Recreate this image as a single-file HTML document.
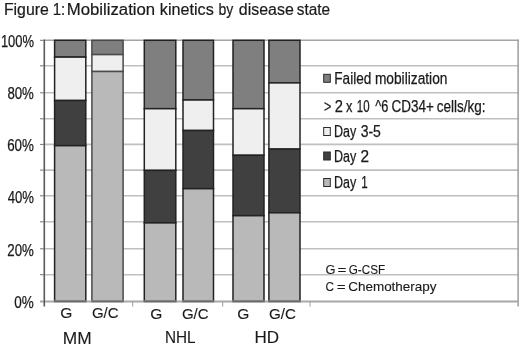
<!DOCTYPE html>
<html><head><meta charset="utf-8"><style>
html,body{margin:0;padding:0;background:#fff;}
body{width:520px;height:348px;overflow:hidden;}
svg{display:block;font-family:"Liberation Sans",sans-serif;filter:grayscale(1) blur(0.3px);}
</style></head><body>
<svg width="520" height="348" viewBox="0 0 520 348">
<rect width="520" height="348" fill="#fff"/>
<line x1="44.3" y1="65.80" x2="518.1" y2="65.80" stroke="#bfbfbf" stroke-width="1.6"/>
<line x1="44.3" y1="92.80" x2="518.1" y2="92.80" stroke="#bfbfbf" stroke-width="1.6"/>
<line x1="44.3" y1="118.80" x2="518.1" y2="118.80" stroke="#bfbfbf" stroke-width="1.6"/>
<line x1="44.3" y1="144.40" x2="518.1" y2="144.40" stroke="#bfbfbf" stroke-width="1.6"/>
<line x1="44.3" y1="170.10" x2="518.1" y2="170.10" stroke="#bfbfbf" stroke-width="1.6"/>
<line x1="44.3" y1="195.80" x2="518.1" y2="195.80" stroke="#bfbfbf" stroke-width="1.6"/>
<line x1="44.3" y1="221.80" x2="518.1" y2="221.80" stroke="#bfbfbf" stroke-width="1.6"/>
<line x1="44.3" y1="248.80" x2="518.1" y2="248.80" stroke="#bfbfbf" stroke-width="1.6"/>
<line x1="44.3" y1="274.70" x2="518.1" y2="274.70" stroke="#bfbfbf" stroke-width="1.6"/>
<line x1="40" y1="40.30" x2="44.3" y2="40.30" stroke="#777" stroke-width="1"/>
<line x1="40" y1="65.80" x2="44.3" y2="65.80" stroke="#777" stroke-width="1"/>
<line x1="40" y1="92.80" x2="44.3" y2="92.80" stroke="#777" stroke-width="1"/>
<line x1="40" y1="118.80" x2="44.3" y2="118.80" stroke="#777" stroke-width="1"/>
<line x1="40" y1="144.40" x2="44.3" y2="144.40" stroke="#777" stroke-width="1"/>
<line x1="40" y1="170.10" x2="44.3" y2="170.10" stroke="#777" stroke-width="1"/>
<line x1="40" y1="195.80" x2="44.3" y2="195.80" stroke="#777" stroke-width="1"/>
<line x1="40" y1="221.80" x2="44.3" y2="221.80" stroke="#777" stroke-width="1"/>
<line x1="40" y1="248.80" x2="44.3" y2="248.80" stroke="#777" stroke-width="1"/>
<line x1="40" y1="274.70" x2="44.3" y2="274.70" stroke="#777" stroke-width="1"/>
<line x1="40" y1="301.50" x2="44.3" y2="301.50" stroke="#777" stroke-width="1"/>
<line x1="44.3" y1="40.2" x2="518.1" y2="40.2" stroke="#a4a4a4" stroke-width="1.4"/>
<line x1="518.1" y1="39.6" x2="518.1" y2="306.5" stroke="#8e8e8e" stroke-width="1.3"/>
<rect x="54.60" y="40.30" width="31.20" height="16.80" fill="#7f7f7f" stroke="#222" stroke-width="1.5"/>
<rect x="54.60" y="57.10" width="31.20" height="43.40" fill="#efefef" stroke="#222" stroke-width="1.5"/>
<rect x="54.60" y="100.50" width="31.20" height="45.20" fill="#404040" stroke="#222" stroke-width="1.5"/>
<rect x="54.60" y="145.70" width="31.20" height="155.70" fill="#b9b9b9" stroke="#222" stroke-width="1.5"/>
<rect x="91.90" y="40.30" width="31.20" height="14.30" fill="#7f7f7f" stroke="#4a4a4a" stroke-width="1.5"/>
<rect x="91.90" y="54.60" width="31.20" height="16.90" fill="#efefef" stroke="#4a4a4a" stroke-width="1.5"/>
<rect x="91.90" y="71.50" width="31.20" height="229.90" fill="#b9b9b9" stroke="#4a4a4a" stroke-width="1.5"/>
<rect x="144.30" y="40.30" width="31.50" height="68.40" fill="#7f7f7f" stroke="#222" stroke-width="1.5"/>
<rect x="144.30" y="108.70" width="31.50" height="61.70" fill="#efefef" stroke="#222" stroke-width="1.5"/>
<rect x="144.30" y="170.40" width="31.50" height="52.50" fill="#404040" stroke="#222" stroke-width="1.5"/>
<rect x="144.30" y="222.90" width="31.50" height="78.50" fill="#b9b9b9" stroke="#222" stroke-width="1.5"/>
<rect x="183.00" y="40.30" width="30.50" height="59.70" fill="#7f7f7f" stroke="#222" stroke-width="1.5"/>
<rect x="183.00" y="100.00" width="30.50" height="30.50" fill="#efefef" stroke="#222" stroke-width="1.5"/>
<rect x="183.00" y="130.50" width="30.50" height="58.20" fill="#404040" stroke="#222" stroke-width="1.5"/>
<rect x="183.00" y="188.70" width="30.50" height="112.70" fill="#b9b9b9" stroke="#222" stroke-width="1.5"/>
<rect x="233.00" y="40.30" width="31.00" height="68.40" fill="#7f7f7f" stroke="#222" stroke-width="1.5"/>
<rect x="233.00" y="108.70" width="31.00" height="46.60" fill="#efefef" stroke="#222" stroke-width="1.5"/>
<rect x="233.00" y="155.30" width="31.00" height="60.40" fill="#404040" stroke="#222" stroke-width="1.5"/>
<rect x="233.00" y="215.70" width="31.00" height="85.70" fill="#b9b9b9" stroke="#222" stroke-width="1.5"/>
<rect x="268.90" y="40.30" width="31.10" height="42.60" fill="#7f7f7f" stroke="#222" stroke-width="1.5"/>
<rect x="268.90" y="82.90" width="31.10" height="66.20" fill="#efefef" stroke="#222" stroke-width="1.5"/>
<rect x="268.90" y="149.10" width="31.10" height="63.70" fill="#404040" stroke="#222" stroke-width="1.5"/>
<rect x="268.90" y="212.80" width="31.10" height="88.60" fill="#b9b9b9" stroke="#222" stroke-width="1.5"/>
<line x1="40" y1="301.5" x2="518.1" y2="301.5" stroke="#a8a8a8" stroke-width="1.8"/>
<line x1="53.85" y1="301.4" x2="86.55" y2="301.4" stroke="#6c6c6c" stroke-width="1.8"/>
<line x1="91.15" y1="301.4" x2="123.85" y2="301.4" stroke="#6c6c6c" stroke-width="1.8"/>
<line x1="143.55" y1="301.4" x2="176.55" y2="301.4" stroke="#6c6c6c" stroke-width="1.8"/>
<line x1="182.25" y1="301.4" x2="214.25" y2="301.4" stroke="#6c6c6c" stroke-width="1.8"/>
<line x1="232.25" y1="301.4" x2="264.75" y2="301.4" stroke="#6c6c6c" stroke-width="1.8"/>
<line x1="268.15" y1="301.4" x2="300.75" y2="301.4" stroke="#6c6c6c" stroke-width="1.8"/>
<line x1="132.7" y1="301.5" x2="132.7" y2="306.5" stroke="#9a9a9a" stroke-width="1"/>
<line x1="222.7" y1="301.5" x2="222.7" y2="306.5" stroke="#9a9a9a" stroke-width="1"/>
<line x1="310.0" y1="301.5" x2="310.0" y2="306.5" stroke="#9a9a9a" stroke-width="1"/>
<line x1="44.3" y1="39.6" x2="44.3" y2="306.5" stroke="#5a5a5a" stroke-width="1.6"/>
<rect x="323.7" y="74.30" width="6.6" height="8.0" fill="#7f7f7f" stroke="#2a2a2a" stroke-width="1"/>
<rect x="323.7" y="127.50" width="6.6" height="8.0" fill="#efefef" stroke="#2a2a2a" stroke-width="1"/>
<rect x="323.7" y="152.00" width="6.6" height="8.0" fill="#404040" stroke="#2a2a2a" stroke-width="1"/>
<rect x="323.7" y="178.50" width="6.6" height="8.0" fill="#b9b9b9" stroke="#2a2a2a" stroke-width="1"/>
<text x="3.93" y="14.60" font-size="16" textLength="44.87" lengthAdjust="spacingAndGlyphs" fill="#1a1a1a" stroke="#1a1a1a" stroke-width="0.2">Figure</text>
<text x="52.67" y="14.60" font-size="16" textLength="12.54" lengthAdjust="spacingAndGlyphs" fill="#1a1a1a" stroke="#1a1a1a" stroke-width="0.2">1:</text>
<text x="66.76" y="14.60" font-size="16" textLength="88.44" lengthAdjust="spacingAndGlyphs" fill="#1a1a1a" stroke="#1a1a1a" stroke-width="0.2">Mobilization</text>
<text x="159.85" y="14.60" font-size="16" textLength="53.91" lengthAdjust="spacingAndGlyphs" fill="#1a1a1a" stroke="#1a1a1a" stroke-width="0.2">kinetics</text>
<text x="218.59" y="14.60" font-size="16" textLength="14.80" lengthAdjust="spacingAndGlyphs" fill="#1a1a1a" stroke="#1a1a1a" stroke-width="0.2">by</text>
<text x="238.86" y="14.60" font-size="16" textLength="54.88" lengthAdjust="spacingAndGlyphs" fill="#1a1a1a" stroke="#1a1a1a" stroke-width="0.2">disease</text>
<text x="296.84" y="14.60" font-size="16" textLength="33.30" lengthAdjust="spacingAndGlyphs" fill="#1a1a1a" stroke="#1a1a1a" stroke-width="0.2">state</text>
<text x="0.93" y="46.80" font-size="16" textLength="33.09" lengthAdjust="spacingAndGlyphs" fill="#1a1a1a" stroke="#1a1a1a" stroke-width="0.25">100%</text>
<text x="7.40" y="98.80" font-size="16" textLength="26.48" lengthAdjust="spacingAndGlyphs" fill="#1a1a1a" stroke="#1a1a1a" stroke-width="0.25">80%</text>
<text x="7.13" y="151.00" font-size="16" textLength="26.76" lengthAdjust="spacingAndGlyphs" fill="#1a1a1a" stroke="#1a1a1a" stroke-width="0.25">60%</text>
<text x="7.67" y="202.50" font-size="16" textLength="26.21" lengthAdjust="spacingAndGlyphs" fill="#1a1a1a" stroke="#1a1a1a" stroke-width="0.25">40%</text>
<text x="7.34" y="255.50" font-size="16" textLength="26.55" lengthAdjust="spacingAndGlyphs" fill="#1a1a1a" stroke="#1a1a1a" stroke-width="0.25">20%</text>
<text x="14.36" y="307.50" font-size="16" textLength="19.52" lengthAdjust="spacingAndGlyphs" fill="#1a1a1a" stroke="#1a1a1a" stroke-width="0.25">0%</text>
<text x="60.32" y="317.60" font-size="15" textLength="12.11" lengthAdjust="spacingAndGlyphs" fill="#1a1a1a" stroke="#1a1a1a" stroke-width="0.12">G</text>
<text x="91.95" y="317.80" font-size="15" textLength="26.69" lengthAdjust="spacingAndGlyphs" fill="#1a1a1a" stroke="#1a1a1a" stroke-width="0.12">G/C</text>
<text x="150.22" y="319.00" font-size="15" textLength="12.11" lengthAdjust="spacingAndGlyphs" fill="#1a1a1a" stroke="#1a1a1a" stroke-width="0.12">G</text>
<text x="181.95" y="319.20" font-size="15" textLength="26.69" lengthAdjust="spacingAndGlyphs" fill="#1a1a1a" stroke="#1a1a1a" stroke-width="0.12">G/C</text>
<text x="237.22" y="319.10" font-size="15" textLength="12.11" lengthAdjust="spacingAndGlyphs" fill="#1a1a1a" stroke="#1a1a1a" stroke-width="0.12">G</text>
<text x="268.94" y="319.20" font-size="15" textLength="27.01" lengthAdjust="spacingAndGlyphs" fill="#1a1a1a" stroke="#1a1a1a" stroke-width="0.12">G/C</text>
<text x="62.81" y="343.60" font-size="16" textLength="28.89" lengthAdjust="spacingAndGlyphs" fill="#1a1a1a" stroke="#1a1a1a" stroke-width="0.12">MM</text>
<text x="164.98" y="342.70" font-size="16" textLength="30.59" lengthAdjust="spacingAndGlyphs" fill="#1a1a1a" stroke="#1a1a1a" stroke-width="0.12">NHL</text>
<text x="254.54" y="342.70" font-size="16" textLength="24.60" lengthAdjust="spacingAndGlyphs" fill="#1a1a1a" stroke="#1a1a1a" stroke-width="0.12">HD</text>
<text x="334.31" y="83.70" font-size="16" textLength="36.95" lengthAdjust="spacingAndGlyphs" fill="#1a1a1a" stroke="#1a1a1a" stroke-width="0.25">Failed</text>
<text x="374.91" y="83.70" font-size="16" textLength="72.49" lengthAdjust="spacingAndGlyphs" fill="#1a1a1a" stroke="#1a1a1a" stroke-width="0.25">mobilization</text>
<text x="324.07" y="112.00" font-size="16" textLength="7.34" lengthAdjust="spacingAndGlyphs" fill="#1a1a1a" stroke="#1a1a1a" stroke-width="0.25">&gt;</text>
<text x="334.76" y="112.00" font-size="16" textLength="8.19" lengthAdjust="spacingAndGlyphs" fill="#1a1a1a" stroke="#1a1a1a" stroke-width="0.25">2</text>
<text x="346.01" y="112.00" font-size="16" textLength="6.42" lengthAdjust="spacingAndGlyphs" fill="#1a1a1a" stroke="#1a1a1a" stroke-width="0.25">x</text>
<text x="356.84" y="112.00" font-size="16" textLength="12.74" lengthAdjust="spacingAndGlyphs" fill="#1a1a1a" stroke="#1a1a1a" stroke-width="0.25">10</text>
<text x="375.34" y="112.00" font-size="16" textLength="13.04" lengthAdjust="spacingAndGlyphs" fill="#1a1a1a" stroke="#1a1a1a" stroke-width="0.25">^6</text>
<text x="391.52" y="112.00" font-size="16" textLength="42.46" lengthAdjust="spacingAndGlyphs" fill="#1a1a1a" stroke="#1a1a1a" stroke-width="0.25">CD34+</text>
<text x="436.69" y="112.00" font-size="16" textLength="48.75" lengthAdjust="spacingAndGlyphs" fill="#1a1a1a" stroke="#1a1a1a" stroke-width="0.25">cells/kg:</text>
<text x="334.00" y="136.80" font-size="16" textLength="22.24" lengthAdjust="spacingAndGlyphs" fill="#1a1a1a" stroke="#1a1a1a" stroke-width="0.25">Day</text>
<text x="360.64" y="136.80" font-size="16" textLength="20.22" lengthAdjust="spacingAndGlyphs" fill="#1a1a1a" stroke="#1a1a1a" stroke-width="0.25">3-5</text>
<text x="334.00" y="162.10" font-size="16" textLength="22.24" lengthAdjust="spacingAndGlyphs" fill="#1a1a1a" stroke="#1a1a1a" stroke-width="0.25">Day</text>
<text x="360.43" y="162.10" font-size="16" textLength="8.56" lengthAdjust="spacingAndGlyphs" fill="#1a1a1a" stroke="#1a1a1a" stroke-width="0.25">2</text>
<text x="334.00" y="188.40" font-size="16" textLength="22.24" lengthAdjust="spacingAndGlyphs" fill="#1a1a1a" stroke="#1a1a1a" stroke-width="0.25">Day</text>
<text x="361.33" y="188.40" font-size="16" textLength="6.47" lengthAdjust="spacingAndGlyphs" fill="#1a1a1a" stroke="#1a1a1a" stroke-width="0.25">1</text>
<text x="325.46" y="273.80" font-size="13" textLength="9.97" lengthAdjust="spacingAndGlyphs" fill="#1a1a1a" stroke="#1a1a1a" stroke-width="0.12">G</text>
<text x="337.44" y="273.80" font-size="13" textLength="8.91" lengthAdjust="spacingAndGlyphs" fill="#1a1a1a" stroke="#1a1a1a" stroke-width="0.12">=</text>
<text x="348.72" y="273.80" font-size="13" textLength="36.36" lengthAdjust="spacingAndGlyphs" fill="#1a1a1a" stroke="#1a1a1a" stroke-width="0.12">G-CSF</text>
<text x="325.51" y="290.80" font-size="13" textLength="8.48" lengthAdjust="spacingAndGlyphs" fill="#1a1a1a" stroke="#1a1a1a" stroke-width="0.12">C</text>
<text x="336.74" y="290.80" font-size="13" textLength="8.91" lengthAdjust="spacingAndGlyphs" fill="#1a1a1a" stroke="#1a1a1a" stroke-width="0.12">=</text>
<text x="348.23" y="290.80" font-size="13" textLength="88.33" lengthAdjust="spacingAndGlyphs" fill="#1a1a1a" stroke="#1a1a1a" stroke-width="0.12">Chemotherapy</text>
</svg>
</body></html>
